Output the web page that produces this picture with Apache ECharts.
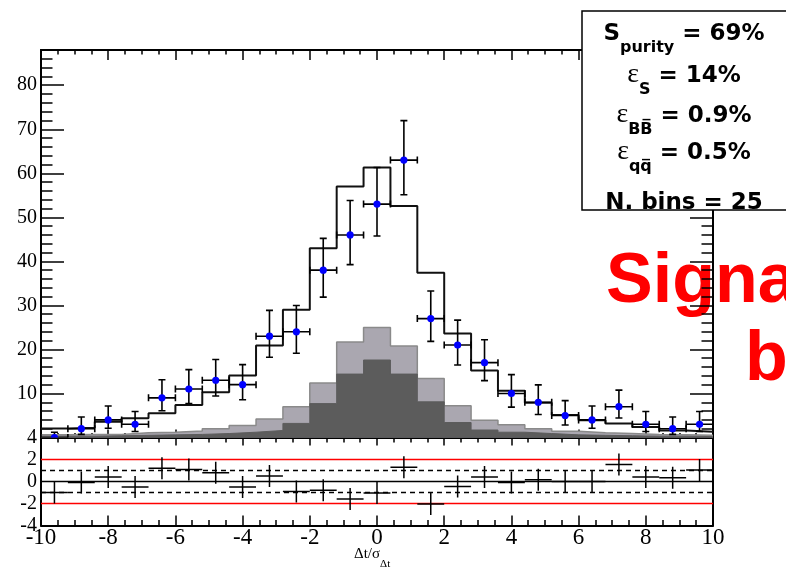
<!DOCTYPE html>
<html><head><meta charset="utf-8">
<script src="https://cdn.jsdelivr.net/npm/echarts@6/dist/echarts.min.js"></script>
<style>html,body{margin:0;padding:0;background:#fff}#c{width:786px;height:570px}</style>
</head><body><div id="c"></div>
<script>
// ---- data ----
const binCenters = [-9.6,-8.8,-8.0,-7.2,-6.4,-5.6,-4.8,-4.0,-3.2,-2.4,-1.6,-0.8,0.0,0.8,1.6,2.4,3.2,4.0,4.8,5.6,6.4,7.2,8.0,8.8,9.6];
const binWidth = 0.8;
const dataCounts  = [0, 2, 4, 3, 9, 11, 13, 12, 23, 24, 38, 46, 53, 63, 27, 21, 17, 10, 8, 5, 4, 7, 3, 2, 3];
const dataErrLow  = [0, 1.29, 1.91, 1.63, 2.94, 3.27, 3.56, 3.42, 4.76, 4.86, 6.12, 6.74, 7.24, 7.88, 5.16, 4.55, 4.08, 3.11, 2.77, 2.16, 1.91, 2.58, 1.63, 1.29, 1.63];
const dataErrHigh = [1.2, 2.64, 3.16, 2.92, 4.11, 4.42, 4.70, 4.56, 5.87, 5.97, 7.21, 7.83, 8.32, 8.96, 6.26, 5.66, 5.20, 4.27, 3.95, 3.38, 3.16, 3.77, 2.92, 2.64, 2.92];
const mcTotal     = [2.05, 2.2, 3.6, 4.4, 5.5, 7.4, 10.3, 14.1, 20.9, 29.0, 43.0, 57.0, 61.3, 52.6, 37.4, 23.6, 15.2, 10.6, 7.9, 5.1, 3.9, 3.2, 2.4, 1.6, 1.3];
const bkgTotal    = [0.6, 0.7, 0.7, 1.1, 1.2, 1.5, 2.0, 2.7, 4.2, 7.0, 12.4, 21.7, 25.0, 20.8, 13.4, 7.2, 3.9, 2.9, 2.0, 1.4, 1.1, 0.9, 0.7, 0.6, 0.5];
const bkgDark     = [0.3, 0.3, 0.4, 0.5, 0.6, 0.7, 0.9, 1.2, 1.6, 3.2, 7.7, 14.4, 17.6, 14.4, 8.1, 3.4, 1.7, 1.2, 0.9, 0.6, 0.5, 0.4, 0.3, 0.3, 0.2];
const pulls       = [-1.0, -0.1, 0.4, -0.5, 1.2, 1.1, 0.8, -0.5, 0.5, -0.9, -0.8, -1.6, -1.05, 1.3, -2.05, -0.45, 0.42, -0.1, 0.15, 0.0, 0.0, 1.55, 0.4, 0.35, 1.05];
const pullErr = 1;
const pullRefLines = [2, 1, 0, -1, -2];
const xRange = [-10, 10];
const yRangeTop = [0, 88];
const yRangePull = [-4, 4];
const statsLines = [
  ['S', 'purity', ' = 69%'],
  ['ε', 'S', ' = 14%'],
  ['ε', 'BB\u0305', ' = 0.9%'],
  ['ε', 'qq\u0305', ' = 0.5%'],
  ['N. bins = 25']
];
const boxText = ['Signal', 'b'];

// ---- helpers ----
function stepData(vals) {
  const d = binCenters.map((c, i) => [c - binWidth / 2, vals[i]]);
  d.push([binCenters[binCenters.length - 1] + binWidth / 2, vals[vals.length - 1]]);
  return d;
}
const black = '#000';
const axLine = {show: true, onZero: false, lineStyle: {color: black, width: 2}};
function xAx(grid, pos, len, mlen, labels) {
  return {gridIndex: grid, type: 'value', min: xRange[0], max: xRange[1], interval: 2, position: pos,
    axisLine: axLine,
    axisTick: {show: true, inside: true, length: len, lineStyle: {color: black, width: 1.5}},
    minorTick: {show: true, splitNumber: 4, length: mlen, lineStyle: {color: black, width: 1.5}},
    axisLabel: labels ? {show: true, fontFamily: 'Liberation Serif', fontSize: 23, color: black, margin: 1} : {show: false},
    splitLine: {show: false}, minorSplitLine: {show: false}};
}
function yAx(grid, pos, range, interval, len, labels) {
  return {gridIndex: grid, type: 'value', min: range[0], max: range[1], interval: interval, position: pos,
    axisLine: axLine,
    axisTick: len > 0 ? {show: true, inside: true, length: len, lineStyle: {color: black, width: 1.5}} : {show: false},
    axisLabel: labels ? {show: true, fontFamily: 'Liberation Serif', fontSize: labels, color: black, margin: 4,
      padding: [4, 0, 0, 0], showMinLabel: grid === 1, showMaxLabel: grid === 1} : {show: false},
    splitLine: {show: false}};
}

const chart = echarts.init(document.getElementById('c'), null, {renderer: 'canvas'});

const series = [];
series.push({type: 'line', xAxisIndex: 0, yAxisIndex: 0, step: 'end', symbol: 'none', z: 2,
  data: stepData(bkgTotal), lineStyle: {color: '#8a8a8a', width: 1.5},
  areaStyle: {color: '#aaa7b0', opacity: 1}, silent: true});
series.push({type: 'line', xAxisIndex: 0, yAxisIndex: 0, step: 'end', symbol: 'none', z: 3,
  data: stepData(bkgDark), lineStyle: {color: '#5c5c5c', width: 1},
  areaStyle: {color: '#5c5c5c', opacity: 1}, silent: true});
series.push({type: 'line', xAxisIndex: 0, yAxisIndex: 0, step: 'end', symbol: 'none', z: 4,
  data: stepData(mcTotal), lineStyle: {color: '#111', width: 2}, silent: true});
series.push({type: 'custom', xAxisIndex: 0, yAxisIndex: 0, z: 6, clip: true,
  data: binCenters.map((c, i) => [c, dataCounts[i], dataErrLow[i], dataErrHigh[i]]),
  encode: {x: 0, y: 1},
  renderItem: function (params, api) {
    const x = api.value(0), y = api.value(1), lo = api.value(2), hi = api.value(3);
    const p = api.coord([x, y]);
    const l = api.coord([x - binWidth / 2, y]), r = api.coord([x + binWidth / 2, y]);
    const t = api.coord([x, y + hi]), b = api.coord([x, Math.max(y - lo, 0)]);
    const st = {stroke: '#000', lineWidth: 1.6};
    const cap = 3.5;
    const ch = [
      {type: 'line', shape: {x1: l[0], y1: p[1], x2: r[0], y2: p[1]}, style: st},
      {type: 'line', shape: {x1: l[0], y1: p[1] - cap, x2: l[0], y2: p[1] + cap}, style: st},
      {type: 'line', shape: {x1: r[0], y1: p[1] - cap, x2: r[0], y2: p[1] + cap}, style: st},
      {type: 'line', shape: {x1: p[0], y1: t[1], x2: p[0], y2: b[1]}, style: st},
      {type: 'line', shape: {x1: p[0] - cap, y1: t[1], x2: p[0] + cap, y2: t[1]}, style: st}
    ];
    if (y - lo > 0) ch.push({type: 'line', shape: {x1: p[0] - cap, y1: b[1], x2: p[0] + cap, y2: b[1]}, style: st});
    ch.push({type: 'circle', shape: {cx: p[0], cy: p[1], r: 3.6}, style: {fill: '#0000ff'}});
    return {type: 'group', children: ch};
  }});
pullRefLines.forEach(v => {
  const isRed = Math.abs(v) === 2, isDash = Math.abs(v) === 1;
  const col = isRed ? '#ff0000' : '#000000';
  series.push({type: 'line', xAxisIndex: 2, yAxisIndex: 4, symbol: 'none', z: 3, silent: true,
    color: col, itemStyle: {color: col},
    data: [[xRange[0], v], [xRange[1], v]],
    lineStyle: {color: col, width: isRed ? 1.5 : 1.5, type: isDash ? [5, 4] : 'solid', opacity: 1}});
});
series.push({type: 'custom', xAxisIndex: 2, yAxisIndex: 4, z: 6, clip: true,
  data: binCenters.map((c, i) => [c, pulls[i]]),
  encode: {x: 0, y: 1},
  renderItem: function (params, api) {
    const x = api.value(0), v = api.value(1);
    const c = api.coord([x, v]);
    const l = api.coord([x - binWidth / 2, v]), r = api.coord([x + binWidth / 2, v]);
    const t = api.coord([x, v + pullErr]), b = api.coord([x, v - pullErr]);
    const st = {stroke: '#000', lineWidth: 1.5};
    return {type: 'group', children: [
      {type: 'line', shape: {x1: l[0], y1: c[1], x2: r[0], y2: c[1]}, style: st},
      {type: 'line', shape: {x1: c[0], y1: t[1], x2: c[0], y2: b[1]}, style: st}
    ]};
  }});

// stats box text
const rich = {
  m: {fontFamily: 'DejaVu Sans', fontWeight: 'bold', fontSize: 23, padding: [4, 0, 0, 0], verticalAlign: 'top', color: '#000'},
  s: {fontFamily: 'DejaVu Sans', fontWeight: 'bold', fontSize: 16, padding: [21, 0, 0, 0], verticalAlign: 'top', color: '#000'},
  e: {fontFamily: 'Liberation Serif', fontSize: 28, verticalAlign: 'top', color: '#000'}
};
const baselines = [42.5, 84, 124, 161, 211];
const graphics = [
  {type: 'text', z: -1, x: 606, y: 282.5, style: {text: boxText[0], fill: '#ff0000', font: 'bold 70px "Liberation Sans"', align: 'left', verticalAlign: 'middle'}},
  {type: 'text', z: -1, x: 745, y: 360.5, style: {text: boxText[1], fill: '#ff0000', font: 'bold 70px "Liberation Sans"', align: 'left', verticalAlign: 'middle'}},
  {type: 'rect', z: 100, shape: {x: 582, y: 11, width: 240, height: 199}, style: {fill: '#fff', stroke: '#000', lineWidth: 1.5}}
];
statsLines.forEach((ln, i) => {
  let txt;
  if (ln.length === 1) txt = '{m|' + ln[0] + '}';
  else if (ln[0] === 'ε') txt = '{e|ε}{s|' + ln[1] + '}{m|' + ln[2] + '}';
  else txt = '{m|' + ln[0] + '}{s|' + ln[1] + '}{m|' + ln[2] + '}';
  graphics.push({type: 'text', z: 101, x: 684, y: baselines[i] - 23.5,
    style: {text: txt, rich: rich, align: 'center', verticalAlign: 'top'}});
});
graphics.push({type: 'text', z: 101, x: 354, y: 547,
  style: {text: '{a|Δt/σ}{b|Δt}', align: 'left', verticalAlign: 'top',
    rich: {a: {fontFamily: 'Liberation Serif', fontSize: 15, verticalAlign: 'top', color: '#000'},
           b: {fontFamily: 'Liberation Serif', fontSize: 11, padding: [12, 0, 0, 0], verticalAlign: 'top', color: '#000'}}}});

chart.setOption({
  animation: false,
  backgroundColor: '#fff',
  grid: [
    {left: 41, top: 50, width: 672, height: 387.5, containLabel: false, outerBoundsMode: 'none', show: false},
    {left: 41, top: 437.5, width: 672, height: 88, containLabel: false, outerBoundsMode: 'none', show: false}
  ],
  xAxis: [
    xAx(0, 'bottom', 8, 4.5, false),
    xAx(0, 'top', 10, 4.5, false),
    xAx(1, 'bottom', 10, 5.5, true),
    xAx(1, 'top', 8, 5, false)
  ],
  yAxis: [
    yAx(0, 'left', yRangeTop, 10, 23, 20),
    yAx(0, 'left', yRangeTop, 2, 11.5, 0),
    yAx(0, 'right', yRangeTop, 10, 23, 0),
    yAx(0, 'right', yRangeTop, 2, 11.5, 0),
    yAx(1, 'left', yRangePull, 2, 0, 20),
    yAx(1, 'right', yRangePull, 2, 0, 0)
  ],
  series: series,
  graphic: graphics
});
</script></body></html>
